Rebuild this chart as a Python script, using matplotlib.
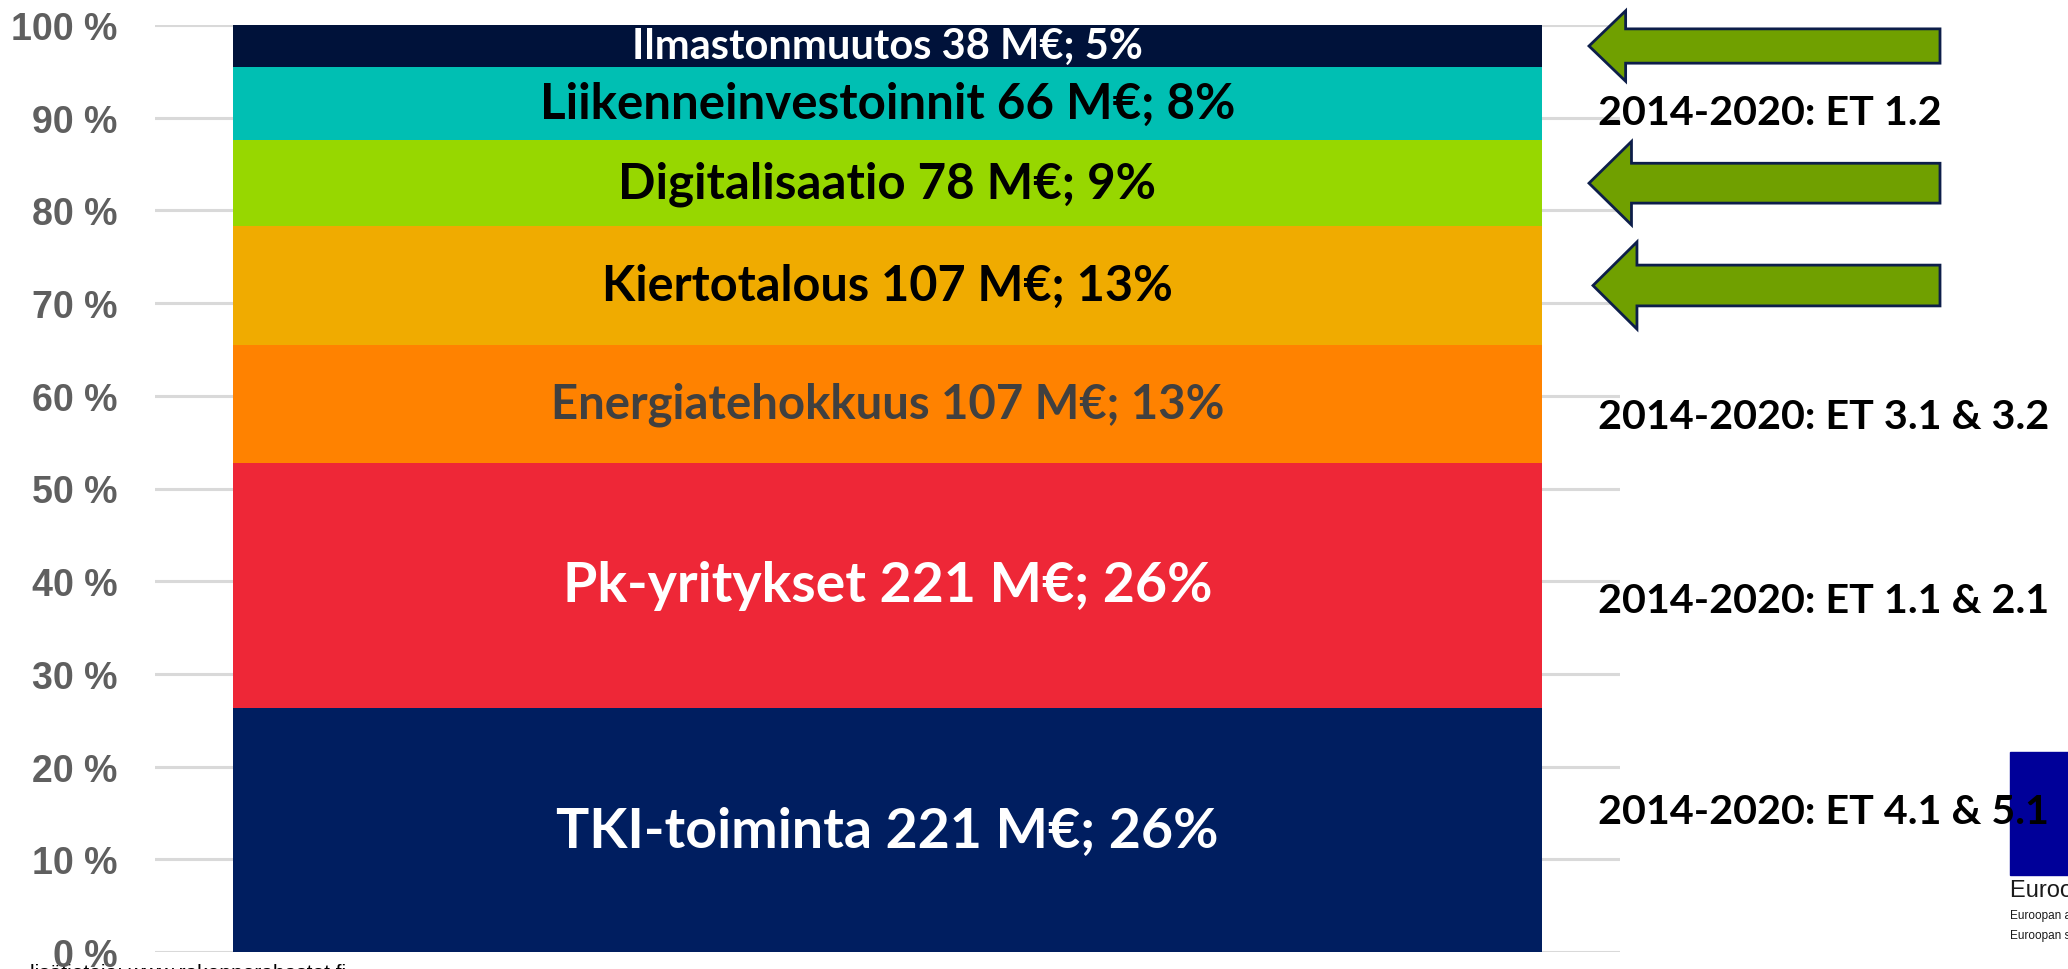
import numpy as np
import matplotlib.pyplot as plt
from matplotlib.patches import FancyArrow, Rectangle

# data, bottom to top (M EUR)
themes = ['TKI-toiminta', 'Pk-yritykset', 'Energiatehokkuus', 'Kiertotalous',
          'Digitalisaatio', 'Liikenneinvestoinnit', 'Ilmastonmuutos']
meur = np.array([221, 221, 107, 107, 78, 66, 38])
pct_lbl = [26, 26, 13, 13, 9, 8, 5]

colors = ['#001E60', '#EE2737', '#FF8200', '#F0AB00', '#97D700', '#00BFB3', '#00123A']
txt_colors = ['white', 'white', '#404040', 'black', 'black', 'black', 'white']
txt_sizes = [40, 40, 34, 35, 35.5, 35.5, 30]

# 2014-2020 reference notes on the right (text, y in %)
notes = ['2014-2020: ET 1.2', '2014-2020: ET 3.1 & 3.2',
         '2014-2020: ET 1.1 & 2.1', '2014-2020: ET 4.1 & 5.1']
note_y = [90.6, 57.8, 37.9, 15.2]
arrow_rows = [6, 4, 3]  # segments pointed at by the green arrows

shares = meur / meur.sum() * 100
bottoms = np.concatenate([[0], np.cumsum(shares)[:-1]])

W, H = 2068, 970
fig = plt.figure(figsize=(W / 100, H / 100), dpi=100)
ax = fig.add_axes([155 / W, 17 / H, 1465 / W, 927 / H])

ax.bar(0, shares, bottom=bottoms, width=0.893, color=colors, zorder=2)
ax.set_xlim(-0.5, 0.5)
ax.set_ylim(0, 100)
ax.set_yticks(np.arange(0, 101, 10))
ax.set_yticklabels([f'{v} %' for v in range(0, 101, 10)])
ax.set_xticks([])
ax.yaxis.grid(True, color='#D9D9D9', lw=2.2, zorder=0)
ax.tick_params(axis='y', length=0, pad=27, labelsize=27, labelcolor='#5f5f5f')
for lab in ax.get_yticklabels():
    lab.set_fontfamily('Liberation Sans')
    lab.set_fontweight('bold')
for s in ['top', 'left', 'bottom', 'right']:
    ax.spines[s].set_visible(False)

for i in range(len(themes)):
    ax.text(0, bottoms[i] + shares[i] / 2, f'{themes[i]} {meur[i]} M€; {pct_lbl[i]}%',
            ha='center', va='center', color=txt_colors[i], fontsize=txt_sizes[i],
            fontfamily='Lato', fontweight='bold', zorder=3)

# green arrows
px = lambda p: -0.5 + (p - 155) / 1465
for k, r in enumerate(arrow_rows):
    yc = bottoms[r] + shares[r] / 2
    shaft = [3.7, 4.3, 4.4][k]
    head = [7.6, 9.0, 9.4][k]
    hl = [0.025, 0.029, 0.030][k]
    tip = px([1589, 1589, 1593][k])
    tail = px(1940)
    ax.add_patch(FancyArrow(tail, yc, tip - tail, 0, width=shaft, head_width=head,
                            head_length=hl, length_includes_head=True,
                            fc='#70A000', ec='#0D1E4A', lw=2, clip_on=False, zorder=4))

for t, y in zip(notes, note_y):
    ax.text(px(1598), y, t, ha='left', va='center', fontsize=29.7,
            fontfamily='Lato', fontweight='bold', color='black', zorder=6, clip_on=False)

# overlay for the cut-off logo and footer
ov = fig.add_axes([0, 0, 1, 1], zorder=-1)
ov.set_xlim(0, W)
ov.set_ylim(H, 0)
ov.axis('off')
ov.add_patch(Rectangle((2010, 753), 80, 123, color='#000099'))
ov.text(2010, 891, 'Euroopan unioni', fontsize=17, va='center', color='#1a1a1a',
        fontfamily='Liberation Sans')
ov.text(2010, 916, 'Euroopan aluekehitysrahasto', fontsize=8.5, va='center', color='#1a1a1a',
        fontfamily='Liberation Sans')
ov.text(2010, 936, 'Euroopan sosiaalirahasto', fontsize=8.5, va='center', color='#1a1a1a',
        fontfamily='Liberation Sans')
ov.text(30, 964, 'lisätietoja: www.rakennerahastot.fi', fontsize=15, va='top',
        color='black', fontfamily='Liberation Sans')

fig.savefig('out.png', dpi=100)
